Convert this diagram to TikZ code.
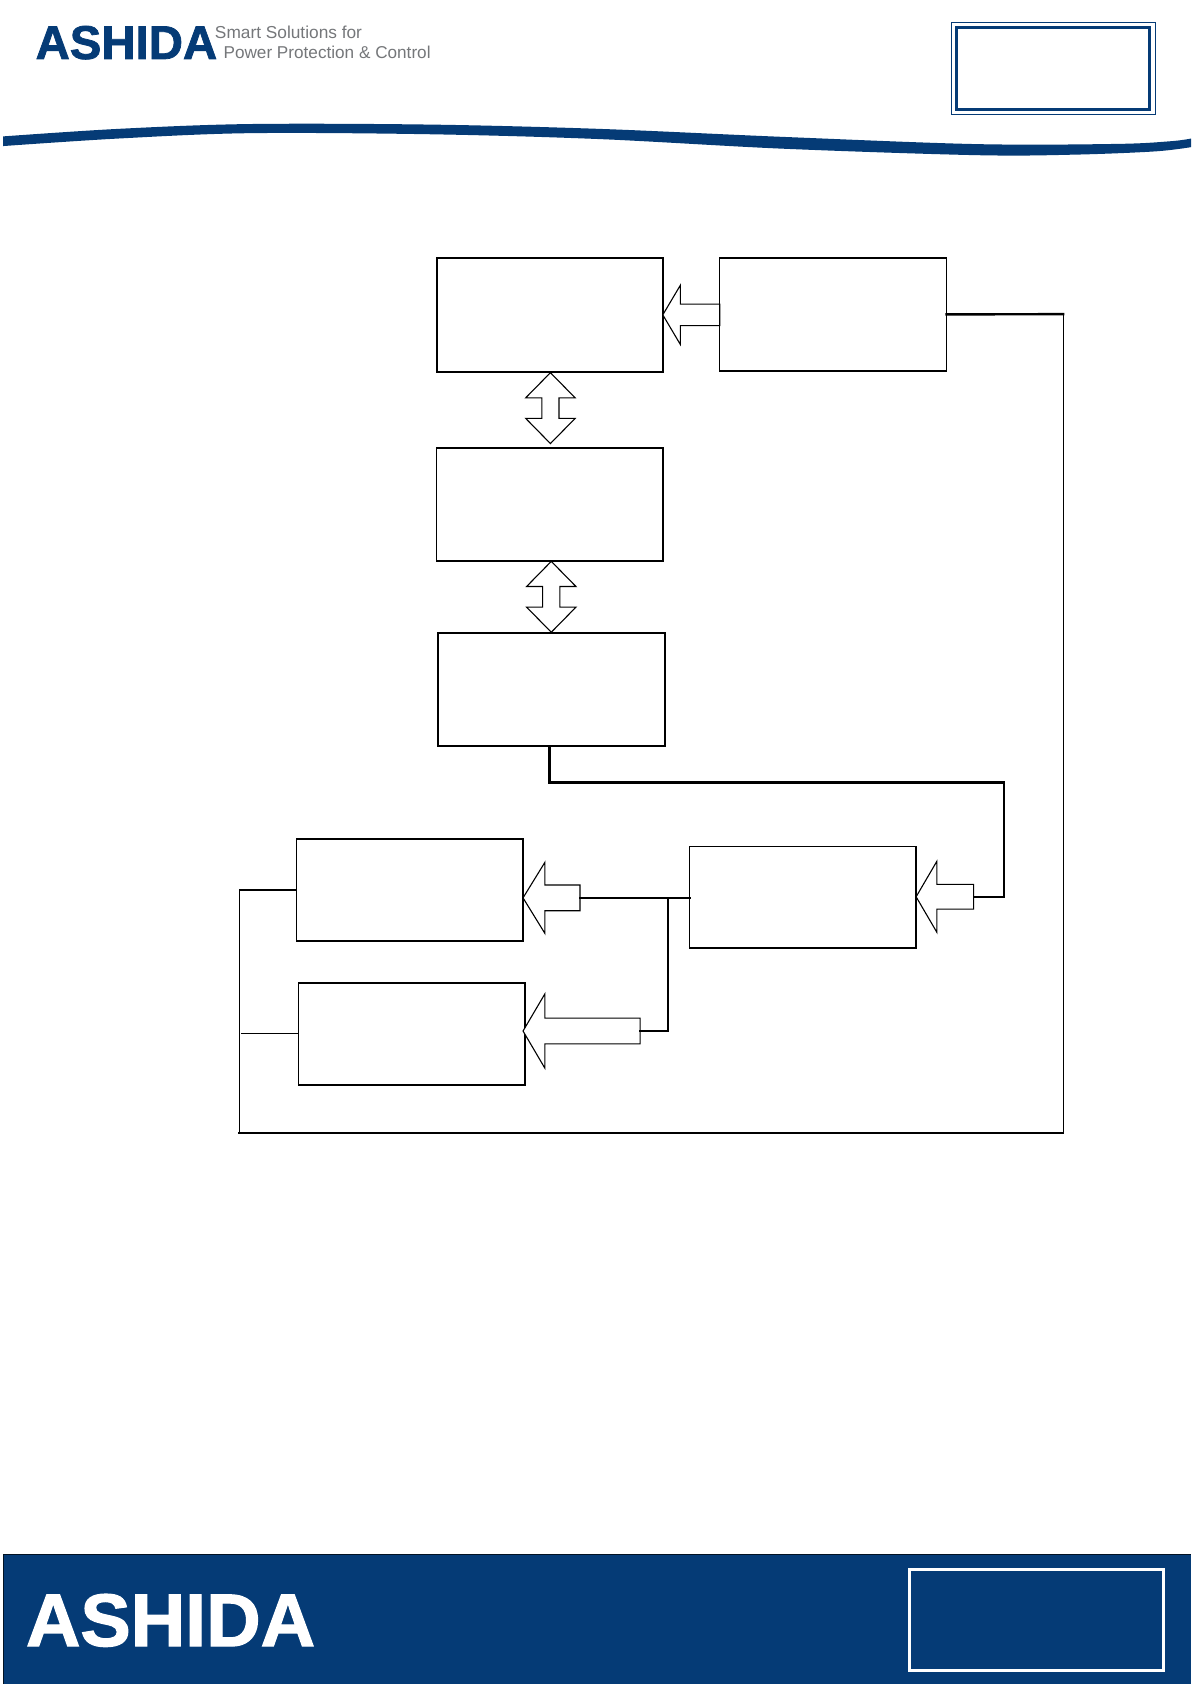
\documentclass[tikz,border=0pt]{standalone}
\usepackage{fontspec}
\setmainfont{Liberation Sans}
\newfontfamily\logofont[BoldFeatures={FakeBold=1.6}]{Liberation Sans}
\usetikzlibrary{shapes.arrows}
\definecolor{navy}{HTML}{053B76}
\definecolor{taggray}{HTML}{75777A}
\tikzset{
  boxnode/.style={draw=black,fill=white,line width=1.6pt,outer sep=0pt,inner sep=0pt,anchor=north west},
  boxheavy/.style={boxnode,line width=2.1pt},
  blockbase/.style={draw=black,fill=white,line width=1.1pt,outer sep=0pt,line join=miter,miter limit=30},
  leftarrow/.style n args={5}{blockbase,single arrow,shape border rotate=180,anchor=tip,
     minimum height=#1*1.0739pt,minimum width=#2*1.0739pt,inner sep=#3*.5369pt,
     single arrow head extend=#4*1.0739pt,single arrow tip angle=#5},
  updown/.style={blockbase,double arrow,shape border rotate=90,anchor=center,
     minimum height=66*1.0739pt,minimum width=45*1.0739pt,inner sep=7.5*1.0739pt,
     double arrow head extend=15*1.0739pt,double arrow tip angle=89},
  wire/.style={line width=1.5pt,line cap=rect,line join=miter},
  wirethick/.style={line width=2.4pt,line cap=rect,line join=miter},
}
\begin{document}
\begin{tikzpicture}[x=1.0739pt,y=-1.0739pt]
\useasboundingbox (0,0) rectangle (1109,1568);
\fill[white] (0,0) rectangle (1109,1568);
% header
\node[anchor=south west,inner sep=0pt,text=navy] (logo) at (33,55.5)
  {\resizebox{181.5pt}{33pt}{\logofont\bfseries ASHIDA}};
\node[anchor=base west,inner sep=0pt,text=taggray] (tagone) at (200,36)
  {\resizebox{147pt}{!}{Smart Solutions for}};
\node[anchor=base west,inner sep=0pt,text=taggray] (tagtwo) at (208,54.5)
  {\resizebox{207pt}{!}{Power Protection \& Control}};
\fill[navy] plot[smooth,tension=.55] coordinates {(3,127) (110,120) (232,115.5) (400,116) (558,120) (730,127.5) (910,134.2) (1040,134) (1090,131.5) (1109,129)}
  -- plot[smooth,tension=.55] coordinates {(1109,137) (1075,141) (1000,144) (910,144.5) (730,138.5) (558,129.5) (400,125) (232,124) (110,129) (3,136)} -- cycle;
\draw[navy,line width=1.1pt] (886,21) rectangle (1075.5,107);
\draw[navy,line width=3pt] (890.5,26) rectangle (1070.5,101.5);
% footer
\fill[navy] (3,1447) rectangle (1109,1568);
\draw[black!70!navy,line width=1pt] (3,1568) -- (3,1447) -- (1109,1447);
\node[anchor=south west,inner sep=0pt,text=white] (logofoot) at (24,1533.5)
  {\resizebox{289pt}{52pt}{\logofont\bfseries ASHIDA}};
\draw[white,line width=2.8pt] (846.5,1461.5) rectangle (1083.5,1555.5);
% boxes
\node[boxheavy,minimum width=226.2pt,minimum height=114.2pt] (A) at (406.5,240) {};
\node[boxnode,minimum width=227pt,minimum height=113.3pt] (B) at (670,240) {};
\node[boxnode,minimum width=226.2pt,minimum height=113pt] (C) at (406.5,417) {};
\node[boxheavy,minimum width=226.6pt,minimum height=113.3pt] (D) at (408,589) {};
\node[boxnode,minimum width=226.6pt,minimum height=101.5pt] (E) at (642,788) {};
\node[boxnode,minimum width=226.6pt,minimum height=102pt] (F) at (276,781) {};
\node[boxnode,minimum width=226.6pt,minimum height=102pt] (G) at (278,915) {};
% block arrows
\node[leftarrow={53}{54}{19}{17.5}{118.7}] (arrB) at (A.east) {};
\node[updown] (arrAC) at (512.5,380) {};
\node[updown] (arrCD) at (513.3,555.7) {};
\node[leftarrow={53.5}{65}{22}{21.5}{119.4}] (arrE) at (853,835) {};
\node[leftarrow={53}{65}{23}{21}{116.8}] (arrF) at (487,836) {};
\node[leftarrow={109}{68}{23}{22.5}{119.1}] (arrG) at (487,960) {};
% free points of the wires
\coordinate (dout) at (511.5,694.5);
\coordinate (dbend) at (511.5,728.5);
\coordinate (dright) at (935,728.5);
\coordinate (ein) at (935,835);
\coordinate (jn) at (622,836);
\coordinate (jg) at (622,960);
\coordinate (bright) at (990,292.5);
\coordinate (bcorner) at (990,1055);
\coordinate (lcorner) at (223,1055);
\coordinate (ltop) at (223,828.5);
\coordinate (gfree) at (225,962.5);
% wires
\draw[wirethick] (dout) -- (dbend) -- (dright) -- (ein);
\draw[wire] (ein) -- (arrE.tail);
\draw[wirethick] (arrF.tail) -- (arrF.tail -| E.west);
\draw[wire] (jn) -- (jg) -- (arrG.tail);
\draw[wirethick] (B.east) -- (bright);
\draw[wire] (bright) -- (bcorner);
\draw[wirethick] (bcorner) -- (lcorner);
\draw[wire] (lcorner) -- (ltop) -- (ltop -| F.west);
\draw[wire] (G.west |- gfree) -- (gfree);
\end{tikzpicture}
\end{document}
